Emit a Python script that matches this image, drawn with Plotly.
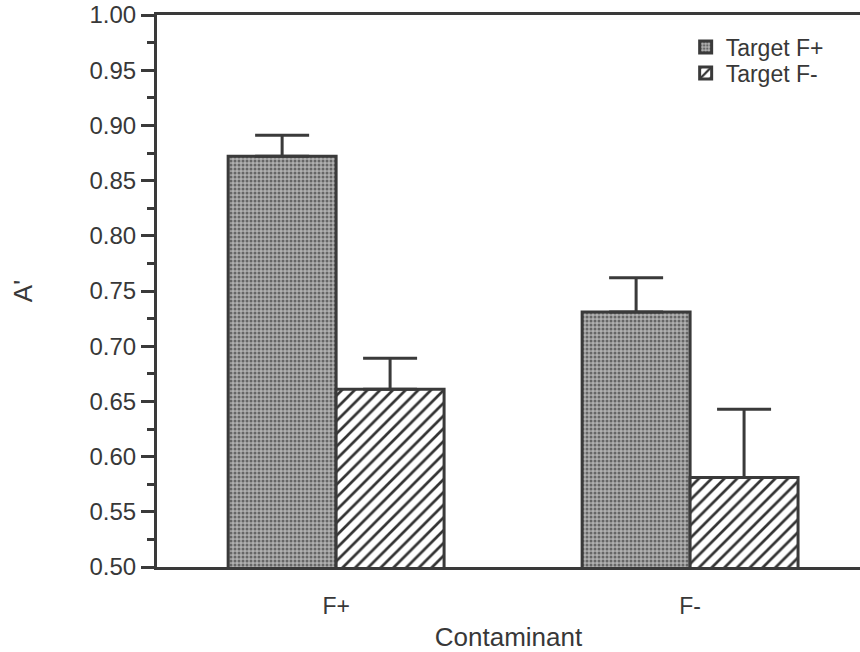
import plotly.graph_objects as go

categories = ["F+", "F-"]
target_fplus = [0.872, 0.731]
target_fplus_err = [0.019, 0.031]
target_fminus = [0.661, 0.581]
target_fminus_err = [0.028, 0.062]

dark = "#3a3a3a"
txt = "#383838"
font_family = "Liberation Sans, Arial, sans-serif"
fs = 24
fs_title = 26

fig = go.Figure()
fig.add_trace(go.Bar(
    name="Target F+", x=categories, y=target_fplus, legend="legend",
    marker=dict(color="#b0b0b0", line=dict(color=dark, width=3),
                pattern=dict(shape=".", fgcolor="#666666", bgcolor="#b0b0b0",
                             size=4, solidity=0.45, fillmode="replace")),
    error_y=dict(type="data", array=target_fplus_err, arrayminus=[0, 0],
                 symmetric=False, color=dark, thickness=3, width=27),
))
fig.add_trace(go.Bar(
    name="Target F-", x=categories, y=target_fminus, legend="legend2",
    marker=dict(color="white", line=dict(color=dark, width=3),
                pattern=dict(shape="/", fgcolor="#333333", bgcolor="white",
                             size=9, solidity=0.3, fillmode="replace")),
    error_y=dict(type="data", array=target_fminus_err, arrayminus=[0, 0],
                 symmetric=False, color=dark, thickness=3, width=27),
))

leg_common = dict(x=0.752, xanchor="left", yanchor="middle",
                  bgcolor="rgba(0,0,0,0)", font=dict(size=fs - 1, color=txt))
fig.update_layout(
    width=860, height=652,
    margin=dict(l=157, r=0, t=15, b=85),
    paper_bgcolor="white", plot_bgcolor="white",
    barmode="group", bargap=0.39, bargroupgap=0,
    font=dict(family=font_family, size=fs, color=txt),
    showlegend=True,
    legend=dict(y=0.942, **leg_common),
    legend2=dict(y=0.895, **leg_common),
)
fig.update_xaxes(
    range=[-0.506, 1.48], showline=True, linecolor=dark, linewidth=3,
    mirror=True, ticks="outside", ticklen=16, tickcolor="rgba(0,0,0,0)",
    showgrid=False, zeroline=False,
    title=dict(text="Contaminant", standoff=12, font=dict(size=fs_title)),
    tickfont=dict(size=fs - 1),
)
fig.update_yaxes(
    range=[0.5, 1.0], tickvals=[0.5 + 0.05 * i for i in range(11)],
    tickformat=".2f", showline=True, linecolor=dark, linewidth=3,
    ticks="outside", ticklen=13, tickwidth=3, tickcolor=dark,
    minor=dict(dtick=0.025, ticks="outside", ticklen=7, tickwidth=3, tickcolor=dark),
    showgrid=False, zeroline=False,
    title=dict(text="A'", standoff=50, font=dict(size=fs_title)),
    tickfont=dict(size=fs),
)

fig.write_html("out.html")
